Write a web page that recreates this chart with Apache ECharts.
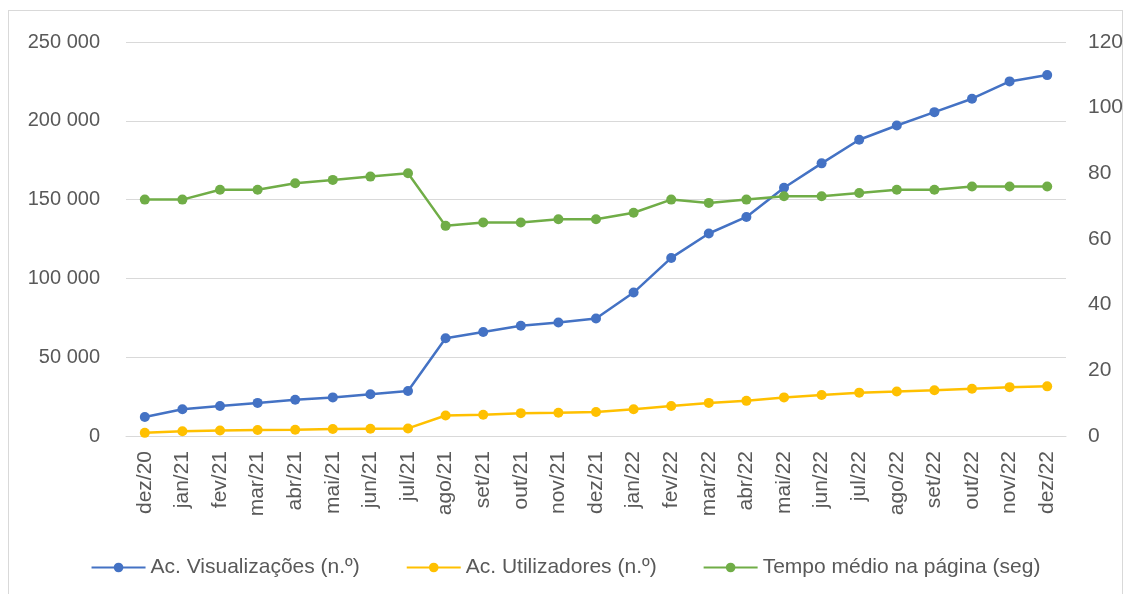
<!DOCTYPE html>
<html>
<head>
<meta charset="utf-8">
<script src="https://cdn.jsdelivr.net/npm/echarts@6/dist/echarts.min.js"></script>
<style>
  html, body { margin: 0; padding: 0; background: #fff; }
  #frame { position: absolute; left: 8px; top: 10px; width: 1113px; height: 600px; border: 1px solid #d9d9d9; }
  #chart { width: 1131px; height: 594px; position: absolute; left: 0; top: 0; }
</style>
</head>
<body>
<div id="frame"></div>
<div id="chart"></div>
<script>
  // meses
  const months = ['dez/20','jan/21','fev/21','mar/21','abr/21','mai/21','jun/21','jul/21','ago/21','set/21','out/21','nov/21','dez/21',
                  'jan/22','fev/22','mar/22','abr/22','mai/22','jun/22','jul/22','ago/22','set/22','out/22','nov/22','dez/22'];
  const visualizacoes = [12000,17000,19000,21000,23000,24500,26500,28500,62000,66000,70000,72000,74500,
                         91000,113000,128500,139000,157500,173000,188000,197000,205500,214000,225000,229000];
  const utilizadores = [2000,3000,3500,3800,4000,4400,4600,4800,13000,13500,14500,14800,15200,
                        17000,19000,21000,22300,24500,26000,27500,28200,29000,30000,31000,31500];
  const tempoMedio = [72,72,75,75,77,78,79,80,64,65,65,66,66,68,72,71,72,73,73,74,75,75,76,76,76];

  const font = '"Liberation Sans", Arial, sans-serif';
  const txt = '#595959';

  let myChart = echarts.init(document.getElementById('chart'));

  const mkLine = (name, data, color, yIdx) => ({
    name: name,
    type: 'line',
    yAxisIndex: yIdx,
    data: data,
    symbol: 'circle',
    symbolSize: 10,
    lineStyle: { color: color, width: 2.5 },
    itemStyle: { color: color },
    animation: false
  });

  const option = {
    grid: { left: 126, right: 65, top: 42, bottom: 158 },
    legend: {
      bottom: 11,
      left: 'center',
      itemWidth: 54,
      itemHeight: 12,
      itemGap: 46,
      textStyle: { color: txt, fontSize: 21, fontFamily: font },
      data: ['Ac. Visualizações (n.º)', 'Ac. Utilizadores (n.º)', 'Tempo médio na página (seg)']
    },
    xAxis: {
      type: 'category',
      data: months,
      axisLine: { lineStyle: { color: '#d9d9d9' } },
      axisTick: { show: false },
      axisLabel: { rotate: 90, color: txt, fontSize: 21, fontFamily: font, margin: 15, interval: 0 }
    },
    yAxis: [
      {
        type: 'value', min: 0, max: 250000, interval: 50000,
        axisLine: { show: false }, axisTick: { show: false },
        splitLine: { lineStyle: { color: '#d9d9d9', width: 1 } },
        axisLabel: {
          color: txt, fontSize: 20, fontFamily: font, margin: 26,
          formatter: v => String(v).replace(/\B(?=(\d{3})+(?!\d))/g, ' ')
        }
      },
      {
        type: 'value', min: 0, max: 120, interval: 20,
        axisLine: { show: false }, axisTick: { show: false },
        splitLine: { show: false },
        axisLabel: { color: txt, fontSize: 21, fontFamily: font, margin: 22 }
      }
    ],
    series: [
      mkLine('Ac. Visualizações (n.º)', visualizacoes, '#4472C4', 0),
      mkLine('Ac. Utilizadores (n.º)', utilizadores, '#FFC000', 0),
      mkLine('Tempo médio na página (seg)', tempoMedio, '#70AD47', 1)
    ]
  };

  myChart.setOption(option);
</script>
</body>
</html>
